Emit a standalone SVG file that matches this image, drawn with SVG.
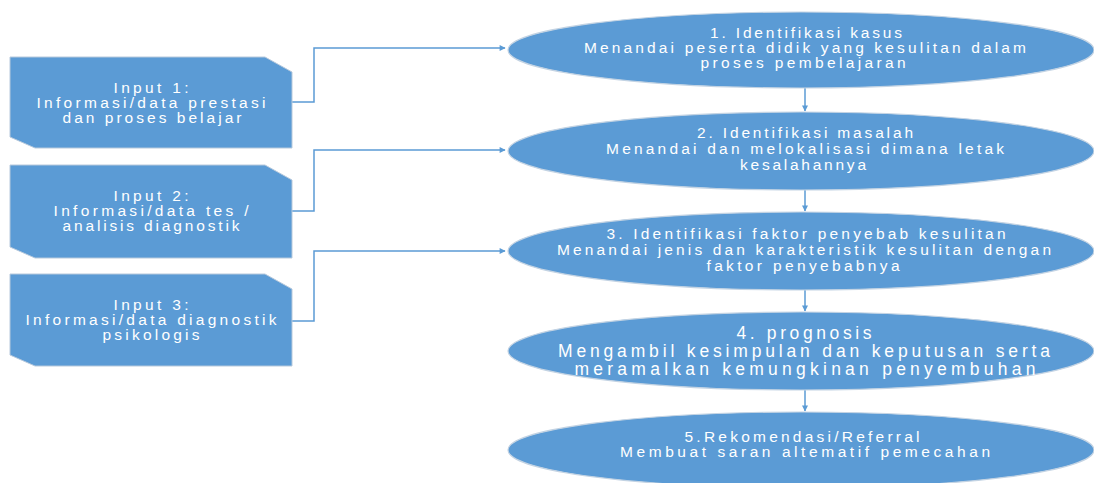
<svg xmlns="http://www.w3.org/2000/svg" width="1094" height="483" viewBox="0 0 1094 483">
<defs>
<marker id="arr" viewBox="0 0 10 10" refX="9" refY="5" markerWidth="7" markerHeight="6" orient="auto" markerUnits="userSpaceOnUse">
<path d="M0,0 L10,5 L0,10 z" fill="#5B9BD5"/>
</marker>
<style>
.box{fill:#5B9BD5;stroke:#b7c9dc;stroke-width:1}
.ell{fill:#5B9BD5;stroke:#c3d3e3;stroke-width:1.2}
.t{font-family:"Liberation Sans",Arial,sans-serif;font-size:15.5px;fill:#ffffff;text-anchor:middle}
.t4{font-size:17.5px}
.c{fill:none;stroke:#5B9BD5;stroke-width:1.5}
</style>
</defs>
<rect width="1094" height="483" fill="#ffffff"/>
<g id="connectors">
<path class="c" d="M292,102 H314 V48 H505" marker-end="url(#arr)"/>
<path class="c" d="M292,211 H314 V150 H505" marker-end="url(#arr)"/>
<path class="c" d="M292,321 H314 V251 H505" marker-end="url(#arr)"/>
<path class="c" d="M805,88 V111" marker-end="url(#arr)"/>
<path class="c" d="M805,190 V211" marker-end="url(#arr)"/>
<path class="c" d="M805,290 V311" marker-end="url(#arr)"/>
<path class="c" d="M805,390 V411" marker-end="url(#arr)"/>
</g>
<g id="input1">
<polygon class="box" points="10,57 265,57 292,72 292,148 35,148 10,137"/>
<text class="t" x="151" y="93" textLength="75" lengthAdjust="spacing">Input 1:</text>
<text class="t" x="151" y="108" textLength="229" lengthAdjust="spacing">Informasi/data prestasi</text>
<text class="t" x="152" y="123" textLength="179" lengthAdjust="spacing">dan proses belajar</text>
</g>
<g id="input2">
<polygon class="box" points="10,165 265,165 292,180 292,258 35,258 10,247"/>
<text class="t" x="151" y="201" textLength="75" lengthAdjust="spacing">Input 2:</text>
<text class="t" x="151" y="216" textLength="195" lengthAdjust="spacing">Informasi/data tes /</text>
<text class="t" x="151" y="231" textLength="177" lengthAdjust="spacing">analisis diagnostik</text>
</g>
<g id="input3">
<polygon class="box" points="10,274 265,274 292,289 292,366 35,366 10,355"/>
<text class="t" x="151" y="310" textLength="75" lengthAdjust="spacing">Input 3:</text>
<text class="t" x="151" y="325" textLength="251" lengthAdjust="spacing">Informasi/data diagnostik</text>
<text class="t" x="151" y="340" textLength="97" lengthAdjust="spacing">psikologis</text>
</g>
<g id="step1">
<ellipse class="ell" cx="801" cy="50" rx="293" ry="38"/>
<text class="t" x="806" y="38" textLength="192" lengthAdjust="spacing">1. Identifikasi kasus</text>
<text class="t" x="805" y="53" textLength="442" lengthAdjust="spacing">Menandai peserta didik yang kesulitan dalam</text>
<text class="t" x="803" y="68" textLength="205" lengthAdjust="spacing">proses pembelajaran</text>
</g>
<g id="step2">
<ellipse class="ell" cx="801" cy="151" rx="293" ry="39"/>
<text class="t" x="805" y="138" textLength="216" lengthAdjust="spacing">2. Identifikasi masalah</text>
<text class="t" x="805" y="154" textLength="398" lengthAdjust="spacing">Menandai dan melokalisasi dimana letak</text>
<text class="t" x="803" y="170" textLength="126" lengthAdjust="spacing">kesalahannya</text>
</g>
<g id="step3">
<ellipse class="ell" cx="801" cy="251" rx="293" ry="39"/>
<text class="t" x="806" y="239" textLength="399" lengthAdjust="spacing">3. Identifikasi faktor penyebab kesulitan</text>
<text class="t" x="804" y="255" textLength="494" lengthAdjust="spacing">Menandai jenis dan karakteristik kesulitan dengan</text>
<text class="t" x="803" y="271" textLength="193" lengthAdjust="spacing">faktor penyebabnya</text>
</g>
<g id="step4">
<ellipse class="ell" cx="801" cy="351" rx="293" ry="39"/>
<text class="t t4" x="804" y="339" textLength="135" lengthAdjust="spacing">4. prognosis</text>
<text class="t t4" x="804" y="357" textLength="492" lengthAdjust="spacing">Mengambil kesimpulan dan keputusan serta</text>
<text class="t t4" x="805" y="375" textLength="461" lengthAdjust="spacing">meramalkan kemungkinan penyembuhan</text>
</g>
<g id="step5">
<ellipse class="ell" cx="801" cy="450" rx="293" ry="38"/>
<text class="t" x="802" y="442" textLength="235" lengthAdjust="spacing">5.Rekomendasi/Referral</text>
<text class="t" x="805" y="457" textLength="370" lengthAdjust="spacing">Membuat saran altematif pemecahan</text>
</g>
</svg>
